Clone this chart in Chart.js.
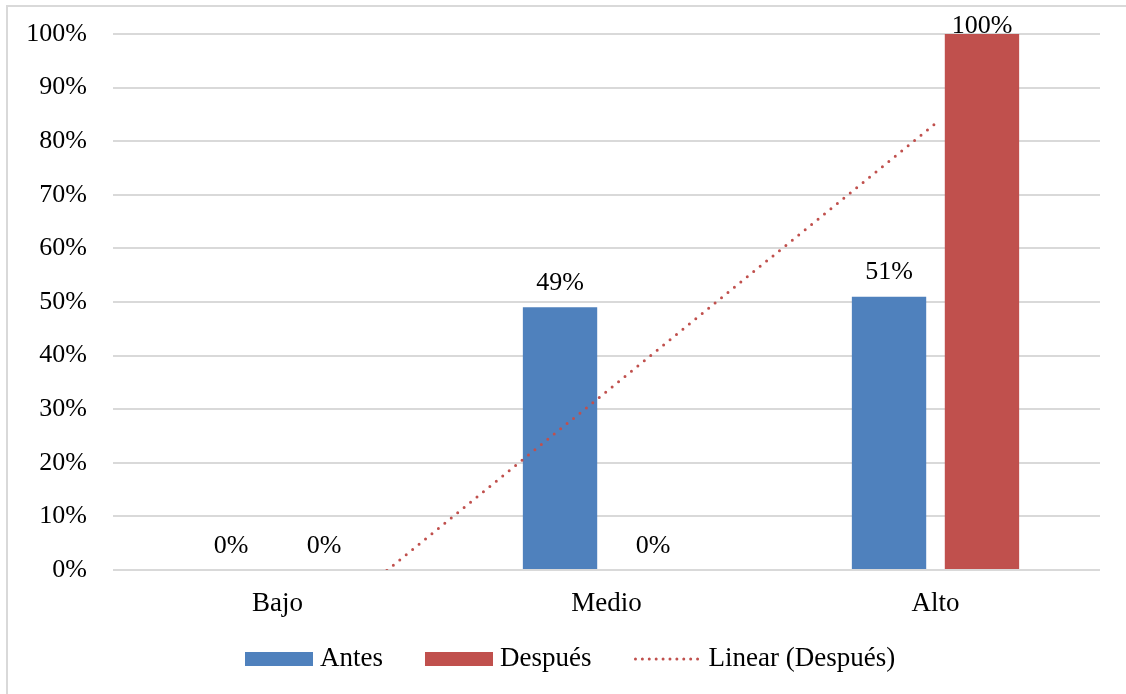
<!DOCTYPE html>
<html lang="es">
<head>
<meta charset="utf-8">
<title>Antes / Después</title>
<script src="https://cdn.jsdelivr.net/npm/chart.js@4.4.1/dist/chart.umd.min.js"></script>
<style>
    html, body { margin: 0; padding: 0; background: #fff; }
    #wrap { width: 1126px; height: 694px; }
</style>
</head>
<body>
<div id="wrap"><canvas id="nivelChart"></canvas></div>
<script>
// datos del gráfico
const categorias = ['Bajo', 'Medio', 'Alto'];
const antes = [0, 49, 51];
const despues = [0, 0, 100];
// línea de tendencia lineal de "Después" (valores en cada categoría)
const tendencia = [-16.7, 33.3, 83.3];
const ticksY = [0, 10, 20, 30, 40, 50, 60, 70, 80, 90, 100];

const AZUL = '#4f81bd';
const ROJO = '#c0504d';
const GRIS = '#d9d9d9';
const FUENTE = "'Liberation Serif', 'Times New Roman', serif";

// marco gris alrededor del gráfico
const marco = {
    id: 'marco',
    beforeDraw(chart) {
        const ctx = chart.ctx;
        ctx.save();
        ctx.fillStyle = '#fff';
        ctx.fillRect(0, 0, chart.width, chart.height);
        ctx.strokeStyle = GRIS;
        ctx.lineWidth = 2;
        ctx.strokeRect(7, 6, chart.width + 20, chart.height + 20);
        ctx.restore();
    }
};

// etiquetas de valor encima de las barras
const etiquetas = {
    id: 'etiquetas',
    afterDatasetsDraw(chart) {
        const ctx = chart.ctx;
        ctx.save();
        ctx.font = '26px ' + FUENTE;
        ctx.fillStyle = '#000';
        ctx.textAlign = 'center';
        ctx.textBaseline = 'middle';
        chart.data.datasets.forEach((ds, i) => {
            if (ds.type === 'line') return;
            chart.getDatasetMeta(i).data.forEach((bar, j) => {
                const y = Math.max(bar.y - 24, 26);
                ctx.fillText(ds.data[j] + '%', bar.x, y);
            });
        });
        ctx.restore();
    }
};

// leyenda inferior: muestra de color + texto, estilo Excel
const leyenda = {
    id: 'leyenda',
    afterDraw(chart) {
        const ctx = chart.ctx;
        const y = 659;
        const anchoMuestra = 68;
        let x = 245;
        ctx.save();
        ctx.font = '27px ' + FUENTE;
        ctx.textBaseline = 'middle';
        ctx.textAlign = 'left';
        chart.data.datasets.forEach(ds => {
            if (ds.type === 'line') {
                ctx.strokeStyle = ds.borderColor;
                ctx.lineWidth = 3;
                ctx.lineCap = 'round';
                ctx.setLineDash([0, 6.9]);
                ctx.beginPath();
                ctx.moveTo(x + 2, y);
                ctx.lineTo(x + anchoMuestra, y);
                ctx.stroke();
                ctx.setLineDash([]);
            } else {
                ctx.fillStyle = ds.backgroundColor;
                ctx.fillRect(x, y - 7, anchoMuestra, 14);
            }
            x += anchoMuestra + 7;
            ctx.fillStyle = '#000';
            ctx.fillText(ds.label, x, y);
            x += ctx.measureText(ds.label).width + 42;
        });
        ctx.restore();
    }
};

document.addEventListener('DOMContentLoaded', () => {
    const ctx = document.getElementById('nivelChart');

    new Chart(ctx, {
        type: 'bar',
        data: {
            labels: categorias,
            datasets: [
                {
                    label: 'Antes',
                    data: antes,
                    backgroundColor: AZUL,
                    categoryPercentage: 0.565,
                    barPercentage: 0.8,
                    order: 1
                },
                {
                    label: 'Después',
                    data: despues,
                    backgroundColor: ROJO,
                    categoryPercentage: 0.565,
                    barPercentage: 0.8,
                    order: 1
                },
                {
                    type: 'line',
                    label: 'Linear (Después)',
                    data: tendencia,
                    borderColor: ROJO,
                    backgroundColor: ROJO,
                    borderWidth: 3,
                    borderDash: [0, 8.3],
                    borderCapStyle: 'round',
                    pointRadius: 0,
                    fill: false,
                    clip: 0,
                    order: 0
                }
            ]
        },
        options: {
            responsive: true,
            maintainAspectRatio: false,
            animation: false,
            layout: {
                padding: { left: 0, right: 26, top: 34, bottom: 64 }
            },
            scales: {
                x: {
                    grid: { display: false, drawTicks: false },
                    border: { display: false },
                    ticks: {
                        color: '#000',
                        padding: 18,
                        font: { family: FUENTE, size: 27 }
                    },
                    afterFit(scale) { scale.height = 60; }
                },
                y: {
                    min: 0,
                    max: 100,
                    afterBuildTicks(scale) {
                        scale.ticks = ticksY.map(v => ({ value: v }));
                    },
                    grid: { color: GRIS, lineWidth: 2, drawTicks: false },
                    border: { display: false },
                    ticks: {
                        color: '#000',
                        padding: 26,
                        font: { family: FUENTE, size: 26 },
                        callback: v => v + '%'
                    },
                    afterFit(scale) {
                        scale.width = 113;
                        scale.paddingTop = 0;
                        scale.paddingBottom = 0;
                    }
                }
            },
            plugins: {
                tooltip: { enabled: false },
                legend: { display: false }
            }
        },
        plugins: [marco, etiquetas, leyenda]
    });
});
</script>
</body>
</html>
